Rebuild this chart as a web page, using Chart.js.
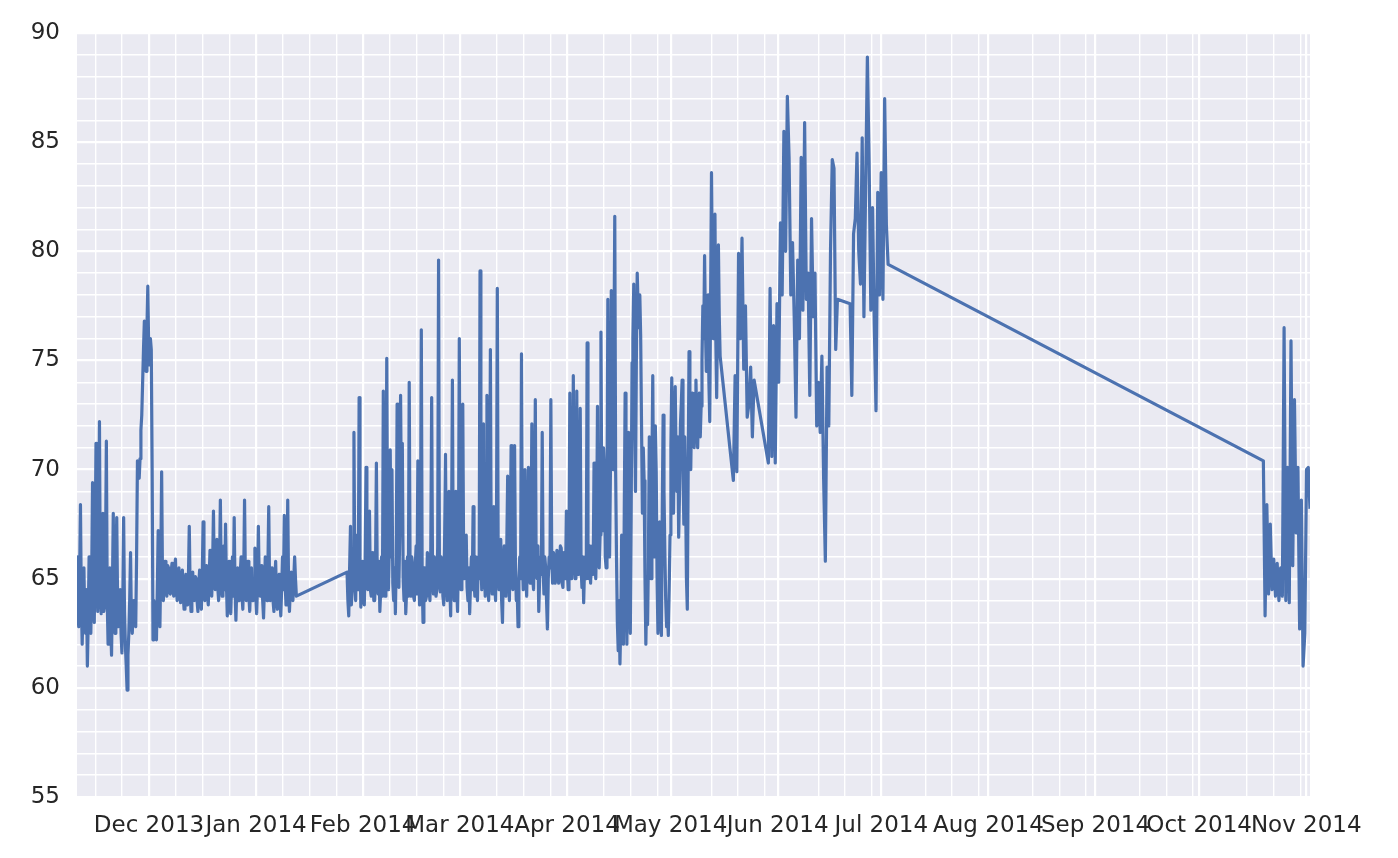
<!DOCTYPE html>
<html>
<head>
<meta charset="utf-8">
<title>Readings Nov 2013 - Nov 2014</title>
<script src="https://cdn.jsdelivr.net/npm/chart.js"></script>
<style>
  html, body { margin: 0; padding: 0; background: #ffffff; }
  #wrap { width: 1398px; height: 858px; }
</style>
</head>
<body>
<div id="wrap"><canvas id="reading-chart" width="1398" height="858"></canvas></div>
<script>
// the logger has holes, so the series is kept in pieces.
// first timestamp (UTC) of each piece and the hours between its readings
const pieceStarts = ['2013-11-10T04:00', '2014-01-27T08:00', '2014-05-19T04:00',
                     '2014-05-29T07:00', '2014-06-21T23:00', '2014-10-19T14:00'];
const pieceSteps = [6, 6, 12, 12, 12, 12];

const novJan = [
  66.0, 63.5, 62.8, 65.0, 68.4, 64.0, 62.0, 63.8, 65.5, 63.0, 62.5, 64.5, 61.0, 63.0, 66.0, 64.5, 62.5, 65.0, 69.4, 64.0,
  63.0, 66.5, 71.2, 65.0, 63.5, 65.5, 72.2, 64.5, 63.4, 65.0, 68.0, 63.5, 63.8, 66.0, 71.3, 64.0, 62.0, 64.8, 65.5, 63.0,
  61.5, 64.5, 68.0, 63.5, 62.5, 65.0, 67.8, 64.0, 62.8, 63.5, 64.5, 62.5, 61.6, 64.0, 67.8, 63.5, 62.0, 61.0, 59.9, 61.5,
  62.5, 64.0, 66.2, 63.0, 62.5, 63.5, 64.0, 63.0, 62.8, 66.0, 70.4, 69.8, 69.6, 70.5, 71.8, 72.5, 74.0, 75.5, 76.8, 75.0,
  74.5, 76.5, 78.4, 75.5, 74.8, 76.0, 75.5, 70.0, 62.2, 64.0, 63.5, 62.5, 62.2, 64.5, 67.2, 63.5, 62.8, 65.5, 69.9, 65.0,
  64.0, 65.5, 65.8, 64.5, 64.2, 65.6, 65.5, 64.4, 64.3, 65.3, 65.7, 64.6, 64.2, 65.4, 65.9, 64.5, 64.0, 65.2, 65.5, 64.3,
  63.9, 65.0, 65.4, 64.2, 63.6, 64.8, 65.2, 64.0, 63.8, 65.0, 67.4, 64.5, 63.5, 64.6, 65.3, 64.2, 64.0, 65.1, 65.0, 64.0,
  63.5, 64.8, 65.4, 64.0, 63.6, 65.0, 67.6, 64.8, 64.0, 65.3, 65.6, 64.2, 63.8, 65.0, 66.3, 64.6, 64.2, 65.5, 68.1, 65.0,
  64.5, 65.5, 66.8, 64.6, 64.0, 65.4, 68.6, 65.0, 64.2, 65.6, 66.5, 64.5, 67.5, 64.8, 63.3, 64.4, 65.8, 64.0, 63.4, 64.8,
  66.0, 64.2, 67.8, 64.5, 63.1, 64.6, 65.5, 64.0, 64.0, 65.2, 66.0, 64.3, 63.6, 65.0, 68.6, 64.8, 64.0, 65.3, 65.8, 64.2,
  63.5, 64.8, 65.5, 64.0, 64.0, 65.0, 66.4, 64.2, 63.4, 64.6, 67.4, 64.8, 64.2, 65.2, 65.6, 64.0, 63.2, 64.5, 66.0, 64.3,
  64.0, 65.4, 68.3, 64.6, 64.0, 65.0, 65.5, 64.0, 63.5, 64.8, 65.8, 64.2, 63.6, 64.9, 65.2, 64.0, 63.3, 64.6, 66.0, 64.5,
  67.9, 64.8, 63.8, 65.0, 68.6, 64.6, 63.5, 64.5, 65.3, 64.2, 64.0, 65.0, 66.0, 65.0, 64.2
];

const janMay = [
  65.3, 64.0, 63.3, 65.5, 67.4, 63.8, 64.5, 66.0, 71.7, 65.0, 64.0, 66.5, 67.0, 64.5, 73.3, 66.0, 63.7, 64.8, 65.8, 64.2,
  63.8, 66.0, 70.1, 64.8, 64.5, 65.8, 68.1, 64.5, 64.2, 66.2, 65.6, 64.0, 64.0, 65.5, 70.3, 65.0, 64.3, 65.8, 63.5, 64.5,
  66.0, 64.2, 73.6, 65.0, 64.2, 66.0, 75.1, 65.5, 64.5, 66.5, 70.9, 66.0, 70.0, 64.8, 64.0, 65.5, 63.4, 66.0, 73.0, 65.0,
  64.6, 67.0, 73.4, 68.0, 71.2, 65.0, 64.0, 65.8, 63.4, 64.5, 66.0, 64.2, 74.0, 65.5, 64.2, 66.0, 65.5, 64.2, 64.0, 65.6,
  66.5, 64.3, 70.4, 65.5, 63.8, 66.0, 76.4, 65.0, 63.0, 65.5, 65.5, 64.0, 64.2, 66.2, 66.0, 64.5, 64.0, 66.5, 73.3, 65.2,
  64.3, 66.0, 65.8, 64.2, 64.5, 66.5, 79.6, 65.0, 64.4, 66.0, 65.6, 64.2, 63.8, 66.8, 70.7, 65.2, 64.0, 66.5, 69.0, 64.6,
  63.3, 67.0, 74.1, 65.5, 64.0, 66.8, 69.0, 64.5, 63.5, 66.0, 76.0, 65.8, 64.5, 66.5, 73.0, 66.0, 65.0, 66.0, 67.0, 64.6,
  64.0, 65.5, 63.4, 64.8, 66.0, 64.5, 68.3, 65.0, 64.2, 66.0, 64.8, 64.0, 66.0, 65.0, 79.1, 65.8, 64.5, 66.8, 72.1, 65.5,
  64.2, 66.5, 73.4, 65.0, 64.0, 66.2, 75.5, 65.5, 64.3, 66.0, 68.3, 64.8, 64.0, 66.5, 78.3, 66.0, 64.5, 65.5, 66.8, 64.0,
  63.0, 65.5, 66.5, 64.5, 64.2, 66.5, 69.7, 65.5, 64.0, 66.8, 71.1, 65.0, 64.5, 66.5, 71.1, 65.5, 64.0, 64.5, 62.8, 65.0,
  66.0, 65.0, 75.3, 66.0, 64.5, 66.8, 70.0, 65.2, 64.2, 66.5, 70.1, 65.5, 64.8, 66.5, 72.1, 65.0, 64.5, 66.8, 73.2, 65.5,
  65.0, 66.5, 63.5, 65.0, 66.0, 65.2, 71.7, 65.5, 64.3, 66.0, 65.5, 64.0, 62.7, 65.0, 66.0, 65.5, 73.2, 66.0, 64.8, 66.2,
  66.0, 64.8, 65.0, 66.3, 66.2, 64.8, 65.0, 66.5, 66.4, 64.8, 64.6, 66.2, 66.0, 65.0, 68.1, 65.5, 64.5, 66.5, 73.5, 66.0,
  65.0, 67.0, 74.3, 66.0, 65.0, 67.0, 73.6, 66.0, 65.2, 66.8, 72.8, 65.5, 64.6, 66.0, 63.9, 65.5, 66.0, 65.0, 75.8, 66.5,
  65.0, 66.5, 64.8, 65.8, 66.5, 65.2, 70.3, 66.0, 65.0, 67.0, 72.9, 66.5, 65.5, 67.0, 76.3, 68.0, 67.2, 71.0, 70.0, 66.0,
  65.5, 68.0, 77.8, 67.0, 66.0, 70.0, 78.2, 72.0, 70.0, 75.0, 81.6, 70.0, 66.0, 63.0, 61.7, 64.0, 61.1, 63.0, 67.0, 64.0,
  62.0, 68.0, 73.5, 65.0, 62.0, 66.5, 71.7, 64.0, 62.5, 68.0, 74.9, 76.0, 78.5, 72.0, 69.0, 75.0, 79.0, 77.5, 76.5, 78.0,
  76.1, 72.0, 68.0, 71.0, 69.5, 65.0, 62.0, 64.5, 62.9, 66.0, 71.5, 68.0, 65.0, 70.0, 74.3, 68.0, 66.0, 72.0, 69.9, 65.0,
  62.5, 64.0, 67.6, 63.5, 62.4, 68.0, 72.5, 69.0, 66.2, 64.0, 62.8, 63.5, 62.4, 64.5, 67.0, 71.0, 74.2, 70.0, 68.0, 72.0,
  73.8, 70.5, 69.0, 71.5, 66.9, 69.0, 72.0, 73.0, 74.1, 70.0, 67.5, 71.5, 69.0, 65.0, 63.6, 70.0, 75.4, 72.5, 70.0, 73.0,
  73.5, 71.5, 71.0, 73.5, 74.1, 72.0, 71.0, 73.0, 73.5, 71.5, 72.9, 75.0, 77.5, 76.0, 79.8, 76.5, 74.5, 76.0, 78.0, 74.0,
  72.2, 78.0, 83.6, 79.0, 76.0, 78.0, 81.7, 76.0, 73.3, 77.0, 80.3, 77.0, 75.2
];

const lateMay = [69.5, 74.3, 69.9, 79.9, 76.0, 80.6, 74.6, 77.5, 72.4, 73.0, 74.7, 71.5, 74.1];

const june = [
  70.3, 78.3, 70.6, 76.6, 70.3, 77.6, 74.0, 81.3, 78.0, 85.5,
  80.0, 87.1, 84.3, 78.0, 80.4, 76.9, 72.4, 79.6, 76.0, 84.3,
  77.3, 85.9, 77.8, 79.0, 73.4, 81.5, 77.0, 79.0, 72.0, 74.0,
  71.7, 75.2, 69.6, 65.8, 74.7, 72.0, 80.1, 84.2, 83.8, 75.5,
  77.8
];

const juneJuly = [
  77.6, 73.4, 80.8, 81.5, 84.5, 80.0, 78.5, 85.2, 77.0, 83.0,
  88.9, 84.1, 77.3, 82.0, 76.6, 72.7, 82.7, 78.0, 83.6, 77.8,
  87.0, 81.2, 79.4
];

const octNov = [
  70.4, 63.3, 68.4, 64.3, 67.5, 64.5, 65.9, 64.2, 65.7, 64.0,
  65.5, 64.2, 76.5, 64.0, 70.1, 63.9, 75.9, 65.6, 73.2, 67.1,
  70.1, 62.7, 68.6, 61.0, 62.5, 70.0, 70.1, 68.2
];

const pieces = [novJan, janMay, lateMay, june, juneJuly, octNov];

// axis ticks
const monthStarts = ['2013-12-01', '2014-01-01', '2014-02-01', '2014-03-01', '2014-04-01', '2014-05-01',
                     '2014-06-01', '2014-07-01', '2014-08-01', '2014-09-01', '2014-10-01', '2014-11-01'];
const monthLabels = ['Dec 2013', 'Jan 2014', 'Feb 2014', 'Mar 2014', 'Apr 2014', 'May 2014',
                     'Jun 2014', 'Jul 2014', 'Aug 2014', 'Sep 2014', 'Oct 2014', 'Nov 2014'];
const yLabels = [55, 60, 65, 70, 75, 80, 85, 90];

const HOUR = 3600000;
const DAY = 24 * HOUR;

function utc(s) {
    return Date.parse(s.length > 10 ? s + ':00Z' : s + 'T00:00:00Z');
}

// build the points from the pieces
const points = [];
pieces.forEach((vals, p) => {
    const t0 = utc(pieceStarts[p]);
    vals.forEach((v, i) => {
        points.push({ x: t0 + i * pieceSteps[p] * HOUR, y: v });
    });
});

const monthTimes = monthStarts.map(utc);
const xMin = points[0].x;
const xMax = points[points.length - 1].x;

// minor ticks: each month step cut in 4 (31 days / 4), as the old matplotlib minor locator did
const minorOrigin = monthTimes[0];
const minorStep = 31 / 4 * DAY;

function buildXTicks() {
    const ticks = monthTimes.map(v => ({ value: v }));
    for (let k = Math.ceil((xMin - minorOrigin) / minorStep); minorOrigin + k * minorStep <= xMax; k++) {
        if (k % 4 === 0) continue;
        ticks.push({ value: minorOrigin + k * minorStep });
    }
    return ticks.sort((a, b) => a.value - b.value);
}

function buildYTicks() {
    const ticks = [];
    for (let v = 55; v <= 90; v++) ticks.push({ value: v });
    return ticks;
}

const plotBackground = {
    id: 'plotBackground',
    beforeDraw(chart) {
        const { ctx, chartArea } = chart;
        ctx.save();
        ctx.fillStyle = '#eaeaf2';
        ctx.fillRect(chartArea.left, chartArea.top, chartArea.right - chartArea.left, chartArea.bottom - chartArea.top);
        ctx.restore();
    }
};

const tickFont = { family: 'DejaVu Sans', size: 23 };

const ctx = document.getElementById('reading-chart').getContext('2d');
const chart = new Chart(ctx, {
    type: 'line',
    data: {
        datasets: [{
            data: points,
            borderColor: '#4c72b0',
            borderWidth: 3.2,
            borderJoinStyle: 'round',
            pointRadius: 0,
            tension: 0,
            fill: false
        }]
    },
    plugins: [plotBackground],
    options: {
        responsive: false,
        animation: false,
        devicePixelRatio: 1,
        layout: { padding: { top: 33, right: 88, bottom: 0, left: 0 } },
        plugins: {
            legend: { display: false },
            tooltip: { enabled: false }
        },
        scales: {
            x: {
                type: 'linear',
                min: xMin,
                max: xMax,
                afterBuildTicks: axis => { axis.ticks = buildXTicks(); },
                afterFit: axis => { axis.height = 61; },
                border: { display: false },
                grid: {
                    color: '#ffffff',
                    drawTicks: false,
                    lineWidth: c => (c.tick && monthTimes.includes(c.tick.value)) ? 2.2 : 1.4
                },
                ticks: {
                    autoSkip: false,
                    maxRotation: 0,
                    minRotation: 0,
                    padding: 15,
                    color: '#262626',
                    font: tickFont,
                    callback: value => {
                        const idx = monthTimes.indexOf(value);
                        return idx >= 0 ? monthLabels[idx] : '';
                    }
                }
            },
            y: {
                min: 55,
                max: 90,
                afterBuildTicks: axis => { axis.ticks = buildYTicks(); },
                afterFit: axis => { axis.width = 77; },
                border: { display: false },
                grid: {
                    color: '#ffffff',
                    drawTicks: false,
                    lineWidth: c => (c.tick && yLabels.includes(c.tick.value)) ? 2.2 : 1.4
                },
                ticks: {
                    autoSkip: false,
                    padding: 17,
                    color: '#262626',
                    font: tickFont,
                    callback: value => yLabels.includes(value) ? String(value) : ''
                }
            }
        }
    }
});
</script>
</body>
</html>
